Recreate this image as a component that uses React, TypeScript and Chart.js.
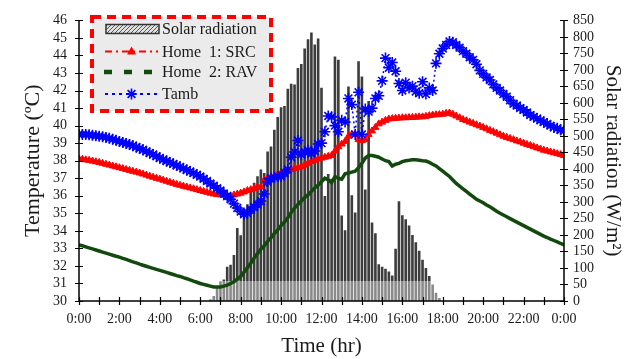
import React, { useEffect, useRef } from 'react';
import { Chart, registerables } from 'chart.js';
Chart.register(...registerables);

// ---------------- DATA ----------------
// samples every 10 minutes from 0:00 to 24:00 (145 samples)
const SAMPLE_STEP_HOURS = 1 / 6;

const xTickLabels = ['0:00', '2:00', '4:00', '6:00', '8:00', '10:00', '12:00', '14:00', '16:00', '18:00', '20:00', '22:00', '0:00'];

const tambValues = [
  39.5, 39.5, 39.5, 39.48, 39.45, 39.42,
  39.4, 39.37, 39.33, 39.28, 39.22, 39.16,
  39.1, 39.04, 38.98, 38.92, 38.85, 38.78,
  38.7, 38.62, 38.53, 38.44, 38.35, 38.25,
  38.15, 38.07, 37.98, 37.9, 37.82, 37.73,
  37.65, 37.56, 37.47, 37.38, 37.29, 37.2,
  37.1, 36.97, 36.84, 36.7, 36.57, 36.43,
  36.3, 36.13, 35.97, 35.8, 35.55, 35.3,
  35.1, 34.95, 35.0, 35.2, 35.35, 35.5,
  35.7, 36.1, 36.8, 37.0, 37.05, 37.1,
  37.1, 37.3, 37.5, 38.2, 38.5, 39.15,
  38.35, 38.5, 38.6, 38.4, 38.55, 38.95,
  39.0, 39.65, 40.55, 40.5, 40.0, 39.65,
  40.3, 40.2, 41.55, 41.2, 39.5, 41.9,
  39.5, 40.95, 40.8, 41.0, 41.55, 41.7,
  42.55, 43.85, 43.3, 43.6, 43.1, 42.4,
  42.0, 42.45, 42.15, 42.25, 41.95, 41.85,
  42.5, 41.8, 42.15, 42.0, 43.55, 44.1,
  44.4, 44.6, 44.8, 44.75, 44.6, 44.45,
  44.25, 44.1, 43.9, 43.75, 43.5, 43.15,
  42.95, 42.75, 42.6, 42.35, 42.15, 42.0,
  41.8, 41.65, 41.45, 41.25, 41.15, 41.0,
  40.9, 40.75, 40.6, 40.5, 40.4, 40.3,
  40.2, 40.1, 40.0, 39.9, 39.85, 39.75,
  39.7,
];

const home1Values = [
  38.1, 38.08, 38.05, 38.02, 37.98, 37.94,
  37.9, 37.85, 37.8, 37.75, 37.7, 37.65,
  37.6, 37.55, 37.5, 37.45, 37.4, 37.35,
  37.3, 37.24, 37.18, 37.12, 37.06, 37.0,
  36.95, 36.89, 36.83, 36.77, 36.71, 36.65,
  36.6, 36.55, 36.5, 36.45, 36.4, 36.35,
  36.3, 36.25, 36.2, 36.15, 36.1, 36.07,
  36.05, 36.02, 36.0, 36.0, 36.05, 36.1,
  36.15, 36.22, 36.3, 36.35, 36.42, 36.48,
  36.5, 36.9, 37.0, 37.05, 37.1, 37.2,
  37.3, 37.35, 37.42, 37.5, 37.55, 37.6,
  37.65, 37.75, 37.85, 37.95, 38.02, 38.1,
  38.15, 38.2, 38.25, 38.3, 38.55, 38.8,
  38.95, 39.1, 39.4, 39.5, 39.5, 39.2,
  39.15, 39.2, 39.5, 39.7, 39.9, 40.1,
  40.2, 40.3, 40.38, 40.4, 40.42, 40.43,
  40.45, 40.45, 40.46, 40.47, 40.48, 40.5,
  40.5, 40.53, 40.57, 40.6, 40.62, 40.63,
  40.65, 40.7, 40.72, 40.65, 40.55, 40.45,
  40.35, 40.28, 40.2, 40.13, 40.05, 39.98,
  39.9, 39.82, 39.73, 39.65, 39.57, 39.48,
  39.4, 39.33, 39.27, 39.2, 39.13, 39.07,
  39.0, 38.93, 38.87, 38.8, 38.73, 38.67,
  38.6, 38.55, 38.5, 38.45, 38.4, 38.35,
  38.3,
];

const home2Values = [
  33.2, 33.15, 33.09, 33.03, 32.97, 32.91,
  32.85, 32.79, 32.73, 32.67, 32.61, 32.55,
  32.5, 32.43, 32.37, 32.3, 32.23, 32.17,
  32.1, 32.04, 31.98, 31.92, 31.86, 31.8,
  31.75, 31.69, 31.63, 31.57, 31.51, 31.45,
  31.4, 31.33, 31.27, 31.2, 31.13, 31.07,
  31.0, 30.95, 30.9, 30.85, 30.8, 30.8,
  30.8, 30.85, 30.9, 31.0, 31.1, 31.25,
  31.4, 31.65, 31.9, 32.15, 32.45, 32.7,
  32.95, 33.15, 33.4, 33.6, 33.85, 34.05,
  34.3, 34.5, 34.75, 35.05, 35.3, 35.5,
  35.7, 35.9, 36.05, 36.25, 36.45, 36.6,
  36.8, 37.0, 36.9, 36.75, 37.1, 37.0,
  36.95, 37.25, 37.3, 37.35, 37.4, 37.6,
  37.85, 38.15, 38.3, 38.3, 38.25, 38.2,
  38.1, 38.0, 37.95, 37.7, 37.8, 37.85,
  37.95, 38.0, 38.02, 38.05, 38.05, 38.03,
  38.0, 37.98, 37.9, 37.8, 37.7, 37.55,
  37.4, 37.25, 37.1, 36.9, 36.7, 36.55,
  36.4, 36.25, 36.1, 35.95, 35.8, 35.7,
  35.6, 35.48, 35.37, 35.25, 35.12, 35.0,
  34.9, 34.8, 34.7, 34.6, 34.5, 34.4,
  34.3, 34.2, 34.1, 34.0, 33.9, 33.8,
  33.7, 33.62, 33.53, 33.45, 33.37, 33.28,
  33.2,
];

// solar radiation bars every 10 minutes from 6:30 to 17:50
const SOLAR_START_HOUR = 6.5;
const solarValues = [
  5, 15, 40, 60, 65, 104, 110, 139, 221, 199,
  259, 293, 338, 358, 378, 398, 388, 453, 468, 519,
  557, 587, 591, 643, 658, 656, 706, 718, 765, 793,
  813, 777, 795, 646, 318, 385, 370, 741, 731, 259,
  214, 650, 320, 268, 726, 680, 338, 606, 238, 205,
  111, 104, 98, 89, 77, 158, 302, 260, 248, 229,
  200, 178, 152, 125, 100, 76, 50, 25, 9,
];

const legendLabels = ['Solar radiation', 'Home  1: SRC', 'Home  2: RAV', 'Tamb'];

// ---------------- STYLE ----------------
const FONT = "'Liberation Serif', 'Times New Roman', serif";
const RED = '#ff0000';
const GREEN = '#124a0e';
const BLUE = '#0000ff';
const BAR_DARK = '#3d3d3d';
const BAR_LIGHT = '#8a8a8a';
const BAR_LIGHT_LIMIT = 62; // W/m2 where the lighter band ends

const toPoints = (vals: number[], start: number) =>
  vals.map((v, i) => ({ x: start + i * SAMPLE_STEP_HOURS, y: v }));

function makeHatch(): CanvasPattern | string {
  const c = document.createElement('canvas');
  c.width = 4;
  c.height = 4;
  const g = c.getContext('2d');
  if (!g) return '#999';
  g.fillStyle = '#e0e0e0';
  g.fillRect(0, 0, 4, 4);
  g.strokeStyle = '#5a5a5a';
  g.lineWidth = 1;
  g.beginPath();
  g.moveTo(-1, 5);
  g.lineTo(5, -1);
  g.stroke();
  return g.createPattern(c, 'repeat') || '#999';
}

const axesPlugin = {
  id: 'crossAxes',
  afterDatasetsDraw(chart: any) {
    const { ctx, chartArea: a, scales } = chart;
    const TL = 4;
    ctx.save();
    ctx.strokeStyle = '#000';
    ctx.lineWidth = 1.5;
    ctx.beginPath();
    ctx.moveTo(a.left, a.top);
    ctx.lineTo(a.left, a.bottom);
    ctx.lineTo(a.right, a.bottom);
    ctx.moveTo(a.right, a.top);
    ctx.lineTo(a.right, a.bottom);
    ctx.stroke();
    ctx.lineWidth = 1.2;
    ctx.beginPath();
    scales.x.ticks.forEach((t: any) => {
      const p = Math.round(scales.x.getPixelForValue(t.value)) + 0.5;
      ctx.moveTo(p, a.bottom - TL);
      ctx.lineTo(p, a.bottom + TL);
    });
    scales.y.ticks.forEach((t: any) => {
      const p = Math.round(scales.y.getPixelForValue(t.value)) + 0.5;
      ctx.moveTo(a.left - TL, p);
      ctx.lineTo(a.left + TL, p);
    });
    scales.y2.ticks.forEach((t: any) => {
      const p = Math.round(scales.y2.getPixelForValue(t.value)) + 0.5;
      ctx.moveTo(a.right - TL, p);
      ctx.lineTo(a.right + TL, p);
    });
    ctx.stroke();
    ctx.restore();
  },
};

const LEGEND_BOX = { x: 92, y: 17, w: 179, h: 94 };
const LEGEND_ROWS = [29, 51.5, 72, 94];
const LEGEND_SAMPLE = { x0: 105, x1: 158, text: 162 };

const legendPlugin = {
  id: 'boxLegend',
  afterDraw(chart: any) {
    const ctx: CanvasRenderingContext2D = chart.ctx;
    const B = LEGEND_BOX;
    const S = LEGEND_SAMPLE;
    const mid = (S.x0 + S.x1) / 2;
    ctx.save();
    ctx.fillStyle = '#ebebeb';
    ctx.fillRect(B.x, B.y, B.w, B.h);
    ctx.setLineDash([9, 6]);
    ctx.lineWidth = 4;
    ctx.strokeStyle = RED;
    ctx.strokeRect(B.x, B.y, B.w, B.h);

    // row 1: hatched box
    const y1 = LEGEND_ROWS[0];
    ctx.setLineDash([]);
    ctx.fillStyle = makeHatch() as any;
    ctx.fillRect(S.x0 + 1, y1 - 4.5, S.x1 - S.x0, 9);
    ctx.strokeStyle = '#333';
    ctx.lineWidth = 1.5;
    ctx.strokeRect(S.x0 + 1, y1 - 4.5, S.x1 - S.x0, 9);

    // row 2: red dash-dot + triangle
    const y2 = LEGEND_ROWS[1];
    ctx.strokeStyle = RED;
    ctx.lineWidth = 2;
    ctx.setLineDash([7, 4, 2, 4]);
    ctx.beginPath();
    ctx.moveTo(S.x0, y2);
    ctx.lineTo(S.x1, y2);
    ctx.stroke();
    ctx.setLineDash([]);
    ctx.fillStyle = RED;
    ctx.beginPath();
    ctx.moveTo(mid, y2 - 5);
    ctx.lineTo(mid + 4.5, y2 + 3);
    ctx.lineTo(mid - 4.5, y2 + 3);
    ctx.closePath();
    ctx.fill();

    // row 3: green thick dashes
    const y3 = LEGEND_ROWS[2];
    ctx.strokeStyle = GREEN;
    ctx.lineWidth = 4.5;
    ctx.setLineDash([8, 12]);
    ctx.beginPath();
    ctx.moveTo(S.x0 - 1, y3);
    ctx.lineTo(S.x1 + 2, y3);
    ctx.stroke();

    // row 4: blue dotted + asterisk
    const y4 = LEGEND_ROWS[3];
    ctx.strokeStyle = BLUE;
    ctx.lineWidth = 2;
    ctx.setLineDash([3, 4]);
    ctx.beginPath();
    ctx.moveTo(S.x0, y4);
    ctx.lineTo(S.x1, y4);
    ctx.stroke();
    ctx.setLineDash([]);
    ctx.lineWidth = 1.6;
    ctx.beginPath();
    const r = 5.5;
    for (let k = 0; k < 4; k++) {
      const ang = (k * Math.PI) / 4;
      ctx.moveTo(mid - r * Math.cos(ang), y4 - r * Math.sin(ang));
      ctx.lineTo(mid + r * Math.cos(ang), y4 + r * Math.sin(ang));
    }
    ctx.stroke();

    ctx.fillStyle = '#1a1a1a';
    ctx.font = `16px ${FONT}`;
    ctx.textBaseline = 'middle';
    ctx.textAlign = 'left';
    legendLabels.forEach((txt, i) => ctx.fillText(txt, S.text, LEGEND_ROWS[i] + 1));
    ctx.restore();
  },
};

export default function App() {
  const ref = useRef<HTMLCanvasElement | null>(null);

  useEffect(() => {
    document.body.style.margin = '0';
    const canvas = ref.current;
    if (!canvas) return;
    Chart.defaults.font.family = FONT;
    Chart.defaults.color = '#1a1a1a';

    const barColor = (c: any) => {
      const chart = c.chart;
      const area = chart.chartArea;
      const y2 = chart.scales && chart.scales.y2;
      if (!area || !y2) return BAR_DARK;
      const yb = y2.getPixelForValue(0);
      const yl = y2.getPixelForValue(BAR_LIGHT_LIMIT);
      const f = Math.min(1, Math.max(0, (yb - yl) / (yb - area.top)));
      const g = chart.ctx.createLinearGradient(0, yb, 0, area.top);
      g.addColorStop(0, BAR_LIGHT);
      g.addColorStop(f, BAR_LIGHT);
      g.addColorStop(f, BAR_DARK);
      g.addColorStop(1, BAR_DARK);
      return g;
    };

    const chart = new Chart(canvas, {
      type: 'line',
      data: {
        datasets: [
          {
            type: 'line',
            label: 'Tamb',
            data: toPoints(tambValues, 0),
            yAxisID: 'y',
            borderColor: BLUE,
            borderWidth: 1.5,
            borderDash: [2, 3],
            pointStyle: 'star',
            pointRadius: 5.5,
            pointBorderWidth: 1.6,
            pointBorderColor: BLUE,
            pointBackgroundColor: BLUE,
            fill: false,
            tension: 0,
            order: 1,
          },
          {
            type: 'line',
            label: 'Home 1: SRC',
            data: toPoints(home1Values, 0),
            yAxisID: 'y',
            borderColor: RED,
            borderWidth: 1.5,
            borderDash: [6, 3, 2, 3],
            pointStyle: 'triangle',
            pointRadius: 4,
            pointBorderWidth: 1,
            pointBorderColor: RED,
            pointBackgroundColor: RED,
            fill: false,
            tension: 0,
            order: 2,
          },
          {
            type: 'line',
            label: 'Home 2: RAV',
            data: toPoints(home2Values, 0),
            yAxisID: 'y',
            borderColor: GREEN,
            borderWidth: 3.5,
            pointRadius: 0,
            fill: false,
            tension: 0,
            order: 3,
          },
          {
            type: 'bar',
            label: 'Solar radiation',
            data: toPoints(solarValues, SOLAR_START_HOUR),
            yAxisID: 'y2',
            xAxisID: 'x',
            backgroundColor: barColor,
            borderWidth: 0,
            categoryPercentage: 1,
            barPercentage: 0.78,
            order: 4,
          } as any,
        ],
      },
      options: {
        responsive: false,
        animation: false,
        devicePixelRatio: 1,
        events: [],
        layout: { padding: { top: 16, left: 0, right: 0, bottom: 0 } },
        plugins: { legend: { display: false }, tooltip: { enabled: false } },
        scales: {
          x: {
            type: 'linear',
            min: 0,
            max: 24,
            offset: false,
            grid: { display: false, drawTicks: false },
            border: { display: false },
            ticks: {
              stepSize: 1,
              autoSkip: false,
              maxRotation: 0,
              padding: 10,
              font: { size: 14, family: FONT },
              color: '#1a1a1a',
              callback: (v: any) => (Number(v) % 2 === 0 ? xTickLabels[Number(v) / 2] : ''),
            },
            title: {
              display: true,
              text: 'Time (hr)',
              font: { size: 21, family: FONT },
              color: '#1a1a1a',
              padding: { top: 0, bottom: 0 },
            },
            afterFit: (s: any) => {
              s.height = 58;
            },
          },
          y: {
            type: 'linear',
            position: 'left',
            min: 30,
            max: 46,
            grid: { display: false, drawTicks: false },
            border: { display: false },
            ticks: { stepSize: 1, autoSkip: false, padding: 12, font: { size: 14, family: FONT }, color: '#1a1a1a' },
            title: {
              display: true,
              text: 'Temperature (ºC)',
              font: { size: 22, family: FONT },
              color: '#1a1a1a',
              padding: { top: 20, bottom: 0 },
            },
            afterFit: (s: any) => {
              s.width = 79;
            },
          },
          y2: {
            type: 'linear',
            position: 'right',
            min: 0,
            max: 850,
            grid: { display: false, drawTicks: false },
            border: { display: false },
            ticks: { stepSize: 50, autoSkip: false, padding: 9, font: { size: 14, family: FONT }, color: '#1a1a1a' },
            title: {
              display: true,
              text: 'Solar radiation (W/m²)',
              font: { size: 21, family: FONT },
              color: '#1a1a1a',
              padding: { top: 2, bottom: 0 },
            },
            afterFit: (s: any) => {
              s.width = 63;
            },
          },
        },
      } as any,
      plugins: [axesPlugin, legendPlugin],
    });
    return () => chart.destroy();
  }, []);

  return (
    <div style={{ position: 'fixed', left: 0, top: 0, width: 627, height: 359, background: '#fff' }}>
      <canvas ref={ref} width={627} height={359} style={{ display: 'block', width: 627, height: 359 }} />
    </div>
  );
}
